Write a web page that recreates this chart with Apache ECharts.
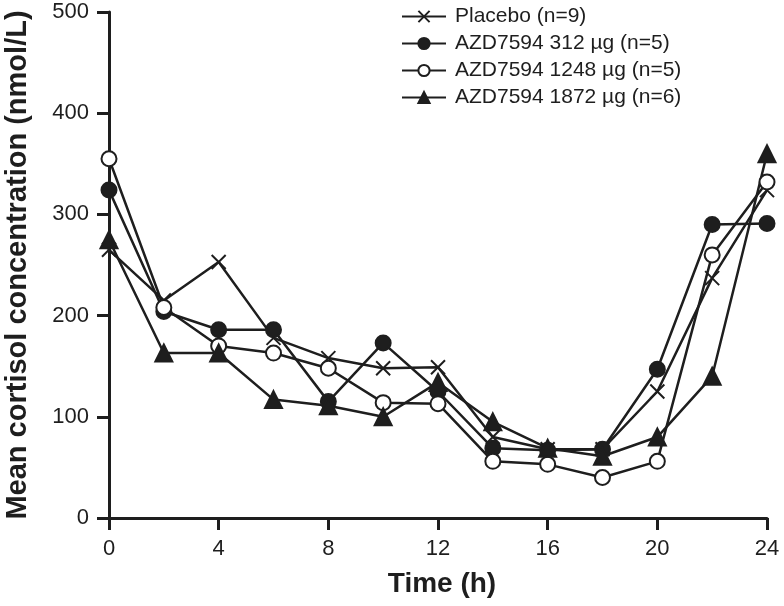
<!DOCTYPE html>
<html>
<head>
<meta charset="utf-8">
<script src="https://cdn.jsdelivr.net/npm/echarts@6/dist/echarts.min.js"></script>
<style>
  html, body { margin: 0; padding: 0; background: #fff; }
  #chart { width: 784px; height: 606px; }
</style>
</head>
<body>
<div id="chart"></div>
<script>
// time points (h)
var hours = [0, 2, 4, 6, 8, 10, 12, 14, 16, 18, 20, 22, 24];

// mean cortisol (nmol/L)
var placebo = [265, 215, 253, 178, 158, 148, 149, 80, 68, 68, 125, 237, 324];
var dose312 = [324, 204, 186, 186, 115, 173, 125, 69, 67, 68, 147, 290, 291];
var dose1248 = [355, 208, 170, 163, 148, 114, 113, 56, 53, 40, 56, 260, 332];
var dose1872 = [275, 163, 163, 117, 111, 100, 134, 95, 69, 61, 80, 140, 360];

var names = [
  "Placebo (n=9)",
  "AZD7594 312 µg (n=5)",
  "AZD7594 1248 µg (n=5)",
  "AZD7594 1872 µg (n=6)"
];

var ink = "#1e1e1e";
var font = "Liberation Sans, Arial, sans-serif";

function pairs(vals) {
  return hours.map(function (h, i) { return [h, vals[i]]; });
}

function makeSeries(name, vals, symbol, size, fill) {
  return {
    name: name,
    type: "line",
    data: pairs(vals),
    symbol: symbol,
    symbolSize: size,
    lineStyle: { color: ink, width: 2.5 },
    itemStyle: { color: fill, borderColor: ink, borderWidth: 2 },
    emphasis: { disabled: true },
    animation: false
  };
}

var chart = echarts.init(document.getElementById("chart"));

chart.setOption({
  backgroundColor: "#fff",
  grid: { left: 109, right: 17, top: 12, bottom: 88, containLabel: false, outerBoundsMode: "none" },
  legend: {
    orient: "vertical",
    left: 396,
    top: 1,
    itemGap: 6,
    itemWidth: 44,
    itemHeight: 14,
    textStyle: { fontFamily: font, fontSize: 21, color: ink, padding: [0, 0, 0, 4] },
    data: names
  },
  xAxis: {
    type: "value",
    min: 0,
    max: 24,
    interval: 4,
    name: "Time (h)",
    nameLocation: "middle",
    nameGap: 52,
    nameTextStyle: { fontFamily: font, fontSize: 28, fontWeight: "bold", color: ink, padding: [0, 0, 0, 8] },
    axisLine: { lineStyle: { color: ink, width: 3 } },
    axisTick: { length: 12, lineStyle: { color: ink, width: 3 } },
    axisLabel: { fontFamily: font, fontSize: 22, color: ink, margin: 20 },
    splitLine: { show: false }
  },
  yAxis: {
    type: "value",
    min: 0,
    max: 500,
    interval: 100,
    name: "Mean cortisol concentration (nmol/L)",
    nameLocation: "middle",
    nameGap: 77,
    nameTextStyle: { fontFamily: font, fontSize: 29, fontWeight: "bold", color: ink },
    axisLine: { show: true, lineStyle: { color: ink, width: 3 } },
    axisTick: { show: true, length: 12, lineStyle: { color: ink, width: 3 } },
    axisLabel: { fontFamily: font, fontSize: 22, color: ink, margin: 20 },
    splitLine: { show: false }
  },
  series: [
    makeSeries(names[0], placebo, "path://M0,0L10,10M10,0L0,10", 14, ink),
    makeSeries(names[1], dose312, "circle", 15, ink),
    makeSeries(names[2], dose1248, "circle", 15, "#fff"),
    makeSeries(names[3], dose1872, "triangle", 17, ink)
  ]
});
</script>
</body>
</html>
